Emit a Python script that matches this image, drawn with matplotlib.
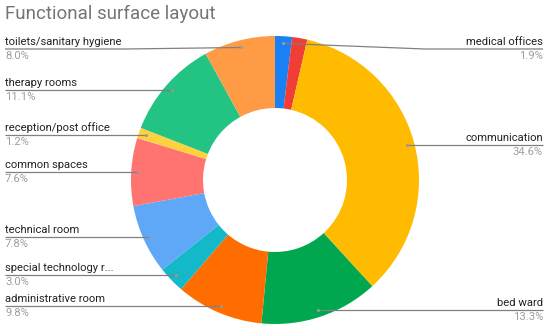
import numpy as np
import matplotlib.pyplot as plt

plt.rcParams['font.family'] = ['Roboto', 'DejaVu Sans']

# data, clockwise from 12 o'clock
categories = ['medical offices', '', 'communication', 'bed ward', 'administrative room',
              'special technology r...', 'technical room', 'common spaces',
              'reception/post office', 'therapy rooms', 'toilets/sanitary hygiene']
shares = [1.9, 1.7, 34.6, 13.3, 9.8, 3.0, 7.8, 7.6, 1.2, 11.1, 8.0]
colors = ['#1a80f5', '#f03d36', '#ffbb00', '#00a74f', '#ff6d00', '#13b8c9',
          '#5fa8f8', '#ff7370', '#ffd040', '#22c383', '#ff9b45']

W, H = 550, 332
fig = plt.figure(figsize=(W / 100, H / 100), dpi=100)
ax = fig.add_axes([0, 0, 1, 1])

cx, cy, R = 275, H - 180, 144
ax.pie(shares, colors=colors, startangle=90, counterclock=False,
       center=(cx, cy), radius=R, wedgeprops=dict(width=R * 0.5, linewidth=0),
       frame=True)
ax.set_xlim(0, W)
ax.set_ylim(0, H)
ax.set_aspect('equal')
ax.axis('off')

ax.text(5, H - 14, 'Functional surface layout', fontsize=13.5, color='#757575',
        va='center', ha='left')

# leader lines and labels
total = sum(shares)
cum = np.cumsum([0] + shares)
top_limit = H - 49
for i, name in enumerate(categories):
    if not name:
        continue
    mid = (cum[i] + cum[i + 1]) / 2 / total * 2 * np.pi
    dx, dy = np.sin(mid), np.cos(mid)
    px, py = cx + 0.95 * R * dx, cy + 0.95 * R * dy
    ly = min(py, top_limit)
    right = dx > 0
    elbow = cx + 150 if right else cx - 150
    end = W - 7 if right else 5
    ax.plot([px, elbow, end], [py, ly, ly], color='#808080', lw=0.9,
            solid_capstyle='butt')
    ax.plot(px, py, 'o', color='#9a9a9a', ms=2.2, mew=0)
    ha = 'right' if right else 'left'
    ax.text(end, ly + 2, name, ha=ha, va='bottom', fontsize=8.1, color='#222222')
    ax.text(end, ly - 2, f'{shares[i]:.1f}%', ha=ha, va='top', fontsize=8.1,
            color='#9e9e9e')

fig.savefig('out.png', dpi=100)
